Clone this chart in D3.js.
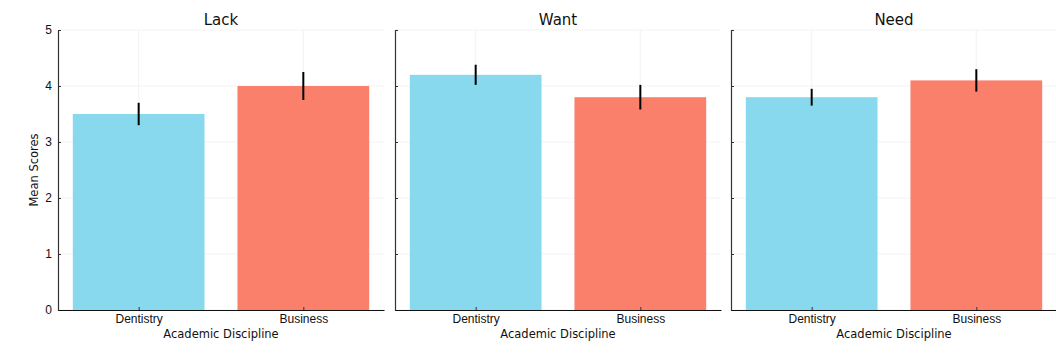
<!DOCTYPE html>
<html><head><meta charset="utf-8">
<script src="https://cdn.jsdelivr.net/npm/d3@7"></script>
<style>body{margin:0;background:#fff}svg{font-family:"DejaVu Sans",sans-serif}</style>
</head><body><svg id="c" width="1056" height="360"></svg>
<script>
const panels = ["Lack", "Want", "Need"];
const categories = ["Dentistry", "Business"];
const dentistryMeans = [3.5, 4.2, 3.8];
const businessMeans = [4.0, 3.8, 4.1];
const dentistryErr = [0.2, 0.18, 0.15];
const businessErr = [0.25, 0.22, 0.2];
const yTicks = [0, 1, 2, 3, 4, 5];
const colors = ["#88D8EE", "#FB806C"];

(function () {
const svg = d3.select("#c");
const plotTop = 30, plotBottom = 310;
const lefts = [58, 395, 731];
const pw = 326;
const y = d3.scaleLinear().domain([0, 5]).range([plotBottom, plotTop]);

panels.forEach((name, i) => {
  const g = svg.append("g").attr("transform", `translate(${lefts[i]},0)`);
  const x = d3.scaleLinear().domain([-0.49, 1.49]).range([0, pw]);
  const vals = [dentistryMeans[i], businessMeans[i]];
  const errs = [dentistryErr[i], businessErr[i]];
  g.selectAll(".hg").data(yTicks).join("line")
    .attr("x1", 0).attr("x2", pw).attr("y1", d => y(d)).attr("y2", d => y(d))
    .attr("stroke", "#f0f0f0").attr("stroke-width", 0.8);
  g.selectAll(".vg").data([0, 1]).join("line")
    .attr("x1", d => x(d)).attr("x2", d => x(d)).attr("y1", plotTop).attr("y2", plotBottom)
    .attr("stroke", "#f0f0f0").attr("stroke-width", 0.8);
  g.selectAll(".bar").data(vals).join("rect")
    .attr("x", (d, j) => x(j - 0.4)).attr("width", (d, j) => x(j + 0.4) - x(j - 0.4))
    .attr("y", d => y(d)).attr("height", d => y(0) - y(d))
    .attr("fill", (d, j) => colors[j]);
  g.selectAll(".err").data(vals).join("line")
    .attr("x1", (d, j) => x(j)).attr("x2", (d, j) => x(j))
    .attr("y1", (d, j) => y(d - errs[j])).attr("y2", (d, j) => y(d + errs[j]))
    .attr("stroke", "#000").attr("stroke-width", 2);
  const ya = d3.axisLeft(y).tickValues(yTicks).tickSizeInner(-3).tickSizeOuter(0).tickPadding(6)
    .tickFormat(i === 0 ? d3.format("d") : () => "");
  const yg = g.append("g").call(ya);
  yg.select(".domain").attr("stroke", "#333").attr("stroke-width", 1.2);
  yg.selectAll(".tick line").attr("stroke", "#333");
  yg.selectAll("text").attr("font-size", 12).attr("fill", "#111");
  const xa = d3.axisBottom(x).tickValues([0, 1]).tickFormat((d) => categories[d])
    .tickSizeInner(-3).tickSizeOuter(0).tickPadding(4);
  const xg = g.append("g").attr("transform", `translate(0,${plotBottom})`).call(xa);
  xg.select(".domain").attr("stroke", "#111").attr("stroke-width", 1.2);
  xg.selectAll(".tick line").attr("stroke", "#333");
  xg.selectAll("text").attr("font-size", 12).attr("fill", "#111");
  g.append("text").attr("x", pw / 2).attr("y", 25).attr("text-anchor", "middle")
    .attr("font-size", 15).attr("fill", "#111").text(name);
  g.append("text").attr("x", pw / 2).attr("y", 338).attr("text-anchor", "middle")
    .attr("font-size", 11.5).attr("fill", "#111").text("Academic Discipline");
});
svg.append("text").attr("transform", `translate(38,${(plotTop + plotBottom) / 2}) rotate(-90)`)
  .attr("text-anchor", "middle").attr("font-size", 11.5).attr("fill", "#111").text("Mean Scores");
})();
</script></body></html>
